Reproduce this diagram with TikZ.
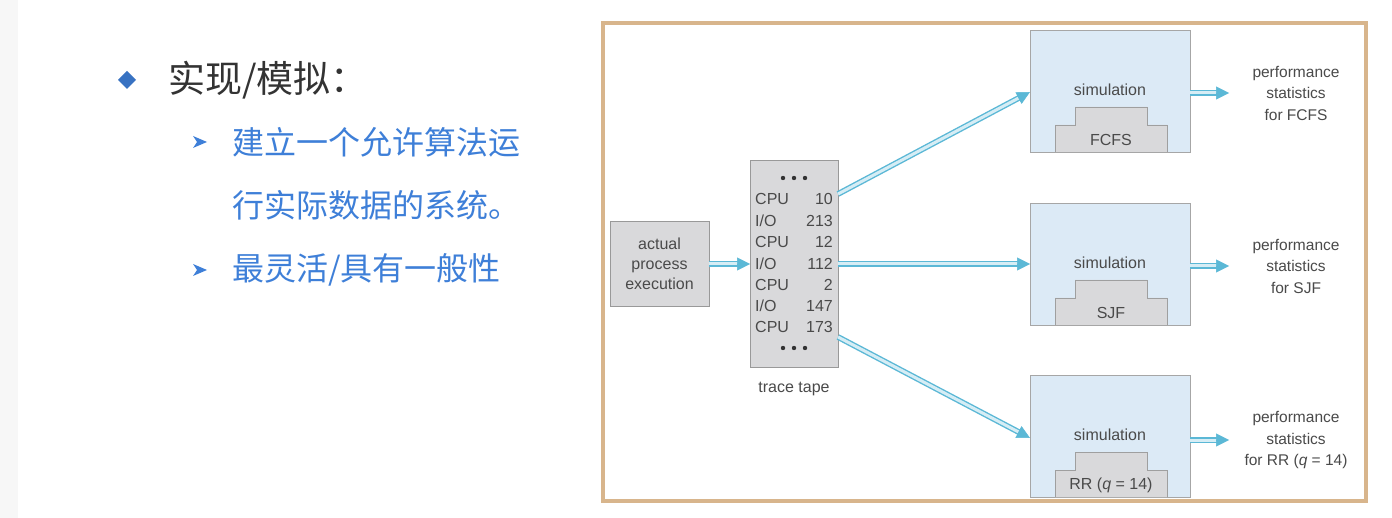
\documentclass[tikz,border=0pt]{standalone}
\usepackage{fontspec}
\setmainfont{Liberation Sans}
\newfontfamily\cjk{Noto Sans CJK SC}
\usetikzlibrary{arrows.meta,calc}
\definecolor{frameor}{HTML}{D8B58C}
\definecolor{boxgray}{HTML}{D9D9DB}
\definecolor{simblue}{HTML}{DCEAF6}
\definecolor{arrblue}{HTML}{5BB8D6}
\definecolor{txtgray}{HTML}{4A4A4A}
\definecolor{cnblue}{HTML}{3E7FD8}
\definecolor{titlegray}{HTML}{333333}
\tikzset{
  x=1pt,y=-1pt,
  lbl/.style={font=\fontsize{16}{19}\selectfont, text=txtgray, align=center, inner sep=0},
  graybox/.style={draw=gray!80, fill=boxgray, line width=0.8pt},
  simbox/.style={draw=gray!70, fill=simblue, line width=0.8pt},
  shaft/.style={draw=arrblue, double=arrblue!25, double distance=3pt, line width=1.4pt},
  tip/.style={draw=arrblue, -{Triangle[length=13pt,width=13pt,fill=arrblue]}, line width=0.5pt},
}
\newcommand{\bigarrow}[2]{%
  \draw[shaft] (#1) -- ($(#2)!11pt!(#1)$);
  \draw[tip] ($(#2)!12pt!(#1)$) -- (#2);}
\begin{document}
\begin{tikzpicture}
\useasboundingbox (0,0) rectangle (1392,518);
\fill[white] (0,0) rectangle (1392,518);
\fill[gray!6] (0,0) rectangle (18,518);
% left text
\fill[cnblue!90!black] (127,71) -- (136,80) -- (127,89) -- (118,80) -- cycle;
\node[anchor=west, inner sep=0, text=titlegray, font=\cjk\fontsize{37}{42}\selectfont] (t1) at (168,80) {实现/模拟：};
\foreach \yy in {142,270}{
  \fill[cnblue] (193,\yy-6) -- (207,\yy) -- (193,\yy+6) -- (197,\yy) -- cycle;}
\node[anchor=west, inner sep=0, text=cnblue, font=\cjk\fontsize{32}{38}\selectfont] (s1) at (232,142) {建立一个允许算法运};
\node[anchor=west, inner sep=0, text=cnblue, font=\cjk\fontsize{32}{38}\selectfont] (s2) at (232,205) {行实际数据的系统。};
\node[anchor=west, inner sep=0, text=cnblue, font=\cjk\fontsize{32}{38}\selectfont] (s3) at (232,270) {最灵活/具有一般性};
% frame
\draw[frameor, line width=4pt] (603,23) rectangle (1366,501);
% actual
\draw[graybox] (610,221) rectangle (709,306);
\node[lbl] (act) at (659.5,263.5) {actual\\[1pt]process\\[1pt]execution};
% tape
\draw[graybox] (750,160) rectangle (838,367);
\foreach \yy in {178,348}{\foreach \xx in {783,794,805}{\fill[black!80] (\xx,\yy) circle (2.2pt);}}
\foreach \yy/\a/\b in {199/CPU/10,221/{I/O}/213,242/CPU/12,264/{I/O}/112,285/CPU/2,306/{I/O}/147,327/CPU/173}{
  \node[lbl, anchor=west] at (755,\yy) {\a};
  \node[lbl, anchor=east] at (833,\yy) {\b};}
\node[lbl] (tt) at (794,389) {trace tape};
% sims
\foreach \yt/\lab/\nm in {30/FCFS/f,203/SJF/s,375/{RR (\textit{q} = 14)}/r}{
  \draw[simbox] (1030,\yt) rectangle (1190,\yt+122);
  \node[lbl] (sim\nm) at (1110,\yt+60) {simulation};
  \draw[draw=gray!75, fill=boxgray, line width=0.8pt] (1055,\yt+122) -- (1055,\yt+95) -- (1075,\yt+95) -- (1075,\yt+77) -- (1147,\yt+77) -- (1147,\yt+95) -- (1167,\yt+95) -- (1167,\yt+122);
  \node[lbl] at (1111,\yt+110) {\lab};
}
\coordinate (a0) at (709,264); \coordinate (a1) at (750,264);
\bigarrow{a0}{a1}
\coordinate (p1) at (838,194); \coordinate (q1) at (1030,92);
\coordinate (p2) at (838,264); \coordinate (q2) at (1030,264);
\coordinate (p3) at (838,337); \coordinate (q3) at (1030,438);
\bigarrow{p1}{q1}\bigarrow{p2}{q2}\bigarrow{p3}{q3}
\foreach \yy/\lab/\nm in {93/FCFS/f,266/SJF/s,440/{RR (\textit{q} = 14)}/r}{
  \coordinate (o\nm) at (1190,\yy); \coordinate (e\nm) at (1229,\yy);
  \bigarrow{o\nm}{e\nm}
  \node[lbl, font=\fontsize{15.5}{21.5}\selectfont] (perf\nm) at (1296,\yy) {performance\\statistics\\for \lab};
}
\end{tikzpicture}
\end{document}
